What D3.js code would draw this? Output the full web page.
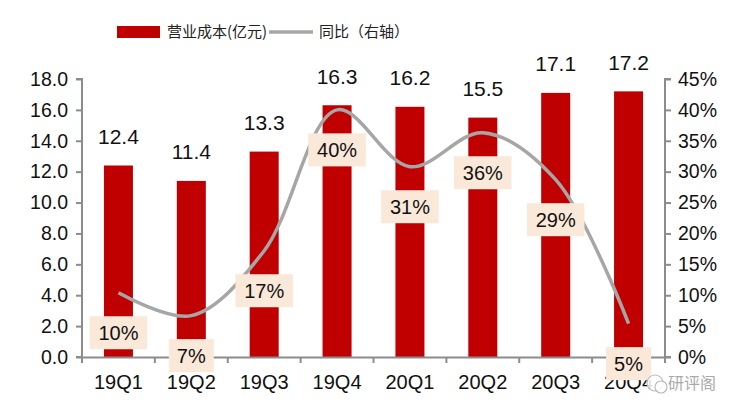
<!DOCTYPE html>
<html>
<head>
<meta charset="utf-8">
<script src="https://cdn.jsdelivr.net/npm/d3@7"></script>
<style>
  body { margin: 0; background: #fff; }
  svg { display: block; font-family: "Liberation Sans", Arial, sans-serif; }
</style>
</head>
<body>
<svg width="744" height="415"></svg>
<script>
const quarters = ["19Q1", "19Q2", "19Q3", "19Q4", "20Q1", "20Q2", "20Q3", "20Q4"];
const cost = [12.4, 11.4, 13.3, 16.3, 16.2, 15.5, 17.1, 17.2];
const yoy = [0.104, 0.067, 0.172, 0.40, 0.308, 0.363, 0.287, 0.054];
const leftTicks = [0, 2, 4, 6, 8, 10, 12, 14, 16, 18];
const rightTicks = [0, 0.05, 0.1, 0.15, 0.2, 0.25, 0.3, 0.35, 0.4, 0.45];
const legendNames = ["营业成本(亿元)", "同比（右轴）"];

const plotLeft = 82, plotRight = 665, plotTop = 79, plotBottom = 357;
const red = "#C00000", grey = "#A6A6A6", axisCol = "#8C8C8C";

const svg = d3.select("svg");

const xb = d3.scaleBand().domain(quarters).range([plotLeft, plotRight]);
const y = d3.scaleLinear().domain([0, 18]).range([plotBottom, plotTop]);
const yr = d3.scaleLinear().domain([0, 0.45]).range([plotBottom, plotTop]);
const cx = (d) => xb(d) + xb.bandwidth() / 2;

// bars
svg.append("g")
  .selectAll("rect")
  .data(quarters)
  .enter()
  .append("rect")
  .attr("x", (d) => cx(d) - 14.5)
  .attr("width", 29)
  .attr("y", (d, i) => y(cost[i]))
  .attr("height", (d, i) => plotBottom - y(cost[i]))
  .attr("fill", red);

// bar values
svg.append("g")
  .selectAll("text")
  .data(quarters)
  .enter()
  .append("text")
  .attr("x", (d) => cx(d))
  .attr("y", (d, i) => y(cost[i]) - 29)
  .attr("dy", "0.36em")
  .attr("text-anchor", "middle")
  .attr("font-size", 21)
  .attr("fill", "#111")
  .text((d, i) => cost[i].toFixed(1));

// axes
const axisLeft = d3.axisLeft(y).tickValues(leftTicks).tickFormat(d3.format(".1f")).tickSize(6).tickPadding(8);
const gl = svg.append("g").attr("transform", `translate(${plotLeft},0)`).call(axisLeft);

const axisRight = d3.axisRight(yr).tickValues(rightTicks).tickFormat(d3.format(".0%")).tickSize(6).tickPadding(7);
const gr = svg.append("g").attr("transform", `translate(${plotRight},0)`).call(axisRight);

const axisBottom = d3.axisBottom(xb).tickSize(0).tickPadding(18);
const gb = svg.append("g").attr("transform", `translate(0,${plotBottom})`).call(axisBottom);

// category boundary ticks
svg.append("g")
  .selectAll("line")
  .data(quarters.concat(["end"]))
  .enter()
  .append("line")
  .attr("x1", (d, i) => plotLeft + i * xb.step())
  .attr("x2", (d, i) => plotLeft + i * xb.step())
  .attr("y1", plotBottom)
  .attr("y2", plotBottom + 6)
  .attr("stroke", axisCol)
  .attr("stroke-width", 2);

[gl, gr, gb].forEach((g) => {
  g.select(".domain").attr("stroke", axisCol).attr("stroke-width", 2);
  g.selectAll(".tick line").attr("stroke", axisCol).attr("stroke-width", 2);
  g.selectAll(".tick text").attr("fill", "#111").attr("font-size", 19.5)
    .attr("font-family", "Liberation Sans, Arial, sans-serif");
});
gb.selectAll(".tick text").attr("font-size", 20);
gl.select(".domain").attr("d", `M-6,${plotTop}H0V${plotBottom}H-6`);
gr.select(".domain").attr("d", `M6,${plotTop}H0V${plotBottom}H6`);

// yoy line
const line = d3.line()
  .x((d, i) => cx(quarters[i]))
  .y((d) => yr(d))
  .curve(d3.curveCatmullRom.alpha(0.5));

svg.append("path")
  .datum(yoy)
  .attr("d", line)
  .attr("fill", "none")
  .attr("stroke", grey)
  .attr("stroke-width", 3.5);

// yoy labels
const fmtPct = d3.format(".0%");
const lab = svg.append("g")
  .selectAll("g")
  .data(yoy)
  .enter()
  .append("g")
  .attr("transform", (d, i) => `translate(${cx(quarters[i])},${yr(d) + 40})`);

lab.append("rect")
  .attr("x", (d) => -(fmtPct(d).length * 12.5 + 20) / 2)
  .attr("width", (d) => fmtPct(d).length * 12.5 + 20)
  .attr("y", -16.5)
  .attr("height", 33)
  .attr("fill", "#FAE8D9");
lab.append("text")
  .attr("text-anchor", "middle")
  .attr("dy", "0.36em")
  .attr("font-size", 20)
  .attr("fill", "#111")
  .text((d) => fmtPct(d));

// legend
const lg = svg.append("g").attr("font-family", "Noto Sans CJK SC, sans-serif").attr("font-size", 15).attr("fill", "#222");
lg.append("rect").attr("x", 117).attr("y", 26).attr("width", 43).attr("height", 12).attr("fill", red);
lg.append("text").attr("x", 167).attr("y", 32).attr("dy", "0.36em").text(legendNames[0]);
lg.append("line").attr("x1", 269).attr("x2", 313).attr("y1", 32).attr("y2", 32)
  .attr("stroke", grey).attr("stroke-width", 3.5);
lg.append("text").attr("x", 319).attr("y", 32).attr("dy", "0.36em").text(legendNames[1]);

// watermark
const wm = svg.append("g").attr("transform", "translate(655,383)");
wm.append("circle").attr("r", 8).attr("fill", "#fff").attr("fill-opacity", 0.85)
  .attr("stroke", "#bbb").attr("stroke-width", 1.2);
wm.append("circle").attr("cx", 6).attr("cy", 4).attr("r", 6).attr("fill", "#fff").attr("fill-opacity", 0.85)
  .attr("stroke", "#bbb").attr("stroke-width", 1.2);
wm.append("text").attr("x", 13).attr("y", 0).attr("dy", "0.36em")
  .attr("font-family", "Noto Sans CJK SC, sans-serif").attr("font-size", 16)
  .attr("fill", "#aaa").text("研评阁");
</script>
</body>
</html>
